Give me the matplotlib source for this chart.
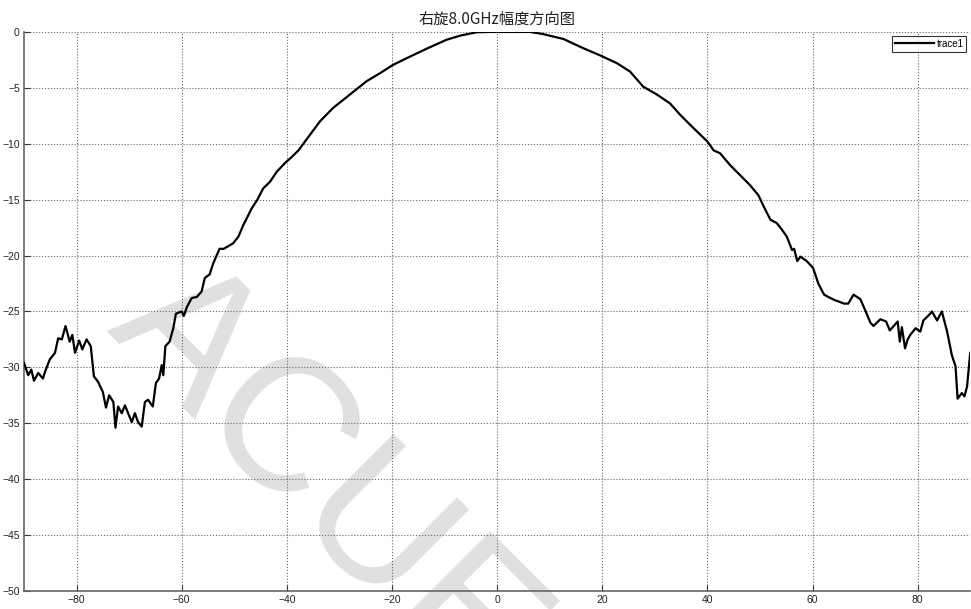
import matplotlib
matplotlib.use("Agg")
import matplotlib.pyplot as plt

# angle (deg) and amplitude (dB)
angle = [-90.0, -89.2, -88.6, -88.1, -87.3, -86.4, -86.0, -85.1, -84.1, -83.5,
         -82.8, -82.1, -81.3, -80.8, -80.3, -79.5, -78.9, -78.1, -77.3, -76.7,
         -75.9, -75.0, -74.4, -73.8, -73.0, -72.6, -72.1, -71.4, -70.8, -70.2,
         -69.5, -68.9, -68.3, -67.6, -67.0, -66.4, -65.5, -64.9, -64.3, -63.8,
         -63.5, -63.1, -62.3, -61.6, -61.1, -60.0, -59.6, -59.0, -58.1, -57.1,
         -56.2, -55.6, -54.7, -54.0, -52.8, -52.0, -50.9, -50.2, -49.2, -48.3,
         -46.7, -45.6, -44.5, -43.2, -41.9, -40.3, -39.1, -37.8, -35.6, -33.7,
         -31.2, -28.0, -24.8, -22.3, -19.8, -17.2, -13.4, -9.6, -7.0, -3.9,
         -1.3, 3.0, 6.3, 8.8, 12.6, 16.4, 19.6, 22.8, 25.3, 27.8,
         30.4, 32.9, 34.8, 36.7, 40.0, 41.2, 42.4, 44.3, 46.2, 48.1,
         49.7, 50.7, 52.0, 53.2, 54.2, 55.1, 56.1, 56.5, 57.1, 57.7,
         58.9, 60.1, 61.1, 62.2, 63.4, 64.3, 64.9, 66.0, 66.8, 67.8,
         69.1, 70.3, 71.0, 71.6, 72.9, 74.0, 74.7, 76.2, 76.6, 77.0,
         77.6, 78.1, 78.6, 79.6, 80.5, 81.1, 82.4, 82.7, 83.7, 84.6,
         85.6, 86.5, 87.2, 87.6, 88.4, 88.9, 89.4, 90.0]
gain = [-29.6, -30.7, -30.2, -31.2, -30.5, -31.0, -30.4, -29.3, -28.7, -27.4,
        -27.5, -26.3, -27.7, -27.1, -28.7, -27.6, -28.4, -27.5, -28.1, -30.8,
        -31.3, -32.2, -33.6, -32.5, -33.1, -35.4, -33.5, -34.1, -33.4, -34.1,
        -34.9, -34.1, -34.9, -35.3, -33.1, -32.9, -33.5, -31.4, -31.0, -29.8,
        -30.7, -28.1, -27.7, -26.5, -25.2, -25.0, -25.4, -24.6, -23.8, -23.7,
        -23.2, -22.0, -21.7, -20.7, -19.4, -19.4, -19.1, -18.9, -18.3, -17.3,
        -15.8, -15.0, -14.0, -13.4, -12.5, -11.7, -11.2, -10.6, -9.2, -8.0,
        -6.8, -5.6, -4.4, -3.7, -2.95, -2.35, -1.5, -0.7, -0.33, -0.03,
        0.0, 0.0, 0.0, -0.2, -0.63, -1.46, -2.1, -2.8, -3.55, -4.9,
        -5.6, -6.4, -7.4, -8.3, -9.8, -10.6, -10.85, -11.9, -12.8, -13.7,
        -14.6, -15.6, -16.8, -17.1, -17.7, -18.3, -19.5, -19.4, -20.5, -20.1,
        -20.5, -21.1, -22.5, -23.5, -23.8, -24.0, -24.1, -24.3, -24.3, -23.5,
        -23.9, -25.2, -26.0, -26.3, -25.7, -25.9, -26.7, -25.9, -27.7, -26.4,
        -28.3, -27.5, -27.1, -26.5, -26.8, -25.8, -25.2, -25.0, -25.8, -25.0,
        -26.8, -28.9, -29.9, -32.8, -32.3, -32.6, -31.7, -28.7]

xticks = [-80, -60, -40, -20, 0, 20, 40, 60, 80]
yticks = [-50, -45, -40, -35, -30, -25, -20, -15, -10, -5, 0]

plt.rcParams['font.family'] = ['Noto Sans CJK SC', 'DejaVu Sans']

fig = plt.figure(figsize=(9.71, 6.09), dpi=100)
ax = fig.add_axes([0.0247, 0.0296, 0.9745, 0.918])

ax.plot(angle, gain, color='black', lw=1.6, label='trace1', zorder=3)

ax.set_xlim(-90, 90)
ax.set_ylim(-50, 0)
ax.set_xticks(xticks)
ax.set_yticks(yticks)
ax.tick_params(direction='in', length=4, labelsize=7.5, pad=3,
               colors='#333333', labelcolor='#222222')
for lab in ax.get_xticklabels() + ax.get_yticklabels():
    lab.set_family('Liberation Sans')
ax.grid(True, linestyle=':', color='#666666', lw=0.8)

for s in ['top', 'right']:
    ax.spines[s].set_visible(False)
for s in ['left', 'bottom']:
    ax.spines[s].set_color('#666666')
    ax.spines[s].set_linewidth(1.2)

ax.set_title('右旋8.0GHz幅度方向图', fontsize=11, pad=6, color='#222222')

leg = ax.legend(loc='upper right', fontsize=7, fancybox=False,
                borderaxespad=0.4, handlelength=4.0, handletextpad=0.3,
                borderpad=0.3, prop={'family': 'Liberation Sans', 'size': 7})
leg.get_frame().set_edgecolor('black')
leg.get_frame().set_linewidth(0.8)

# watermark
ax.text(0.335, 0.21, 'ACUE', transform=fig.transFigure, fontsize=136,
        family='Liberation Sans', color='#e0e0e0', rotation=-45,
        ha='center', va='center', rotation_mode='anchor',
        zorder=0.5, clip_on=False)

fig.savefig('out.png', dpi=100)
